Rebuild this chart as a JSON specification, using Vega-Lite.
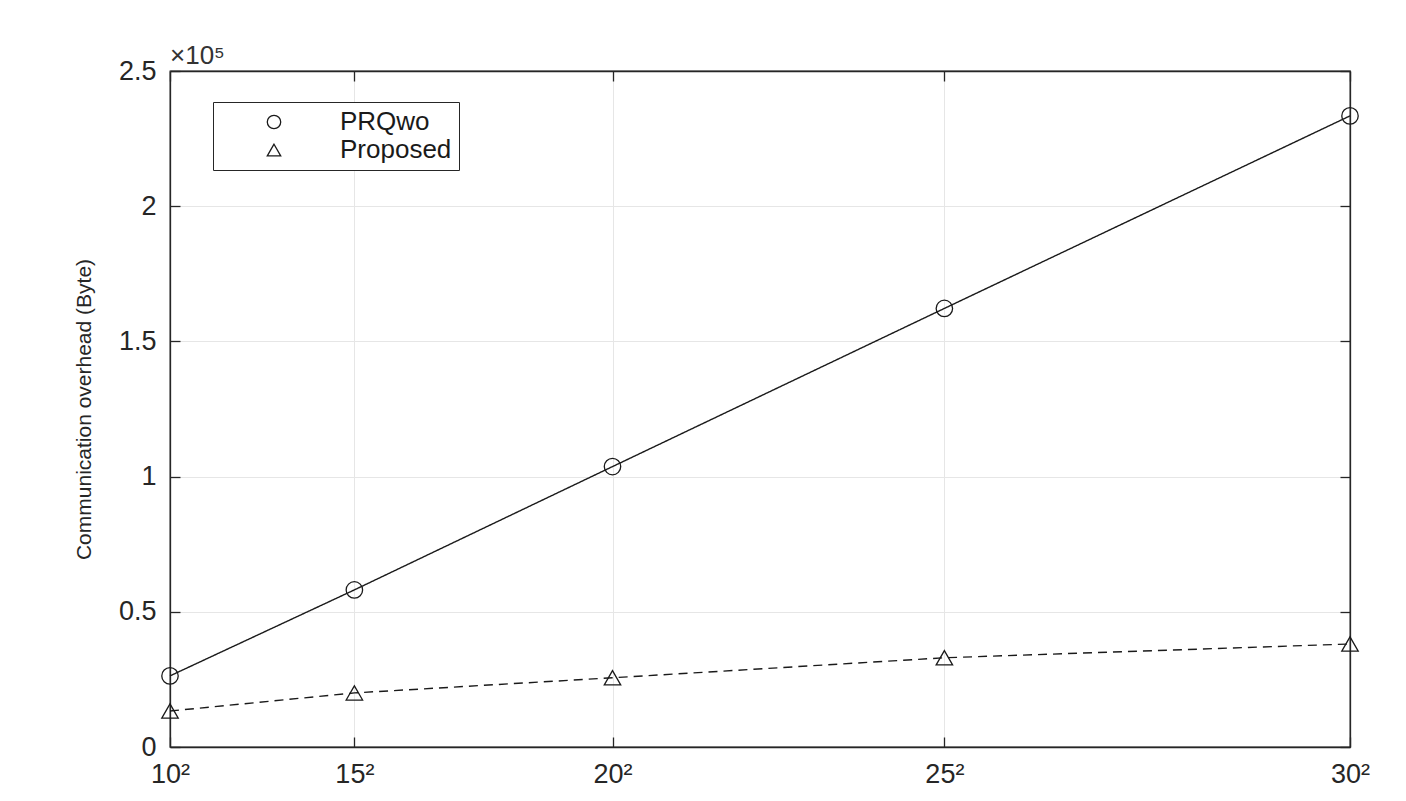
{
  "$schema": "https://vega.github.io/schema/vega-lite/v6.json",
  "width": 1180,
  "height": 676,
  "autosize": {"type": "none"},
  "padding": {"left": 170, "top": 71, "right": 56, "bottom": 54},
  "background": "white",
  "title": {
    "text": "×10⁵",
    "anchor": "start",
    "frame": "group",
    "font": "Liberation Sans",
    "fontSize": 26,
    "fontWeight": "normal",
    "color": "#333333",
    "offset": -12
  },
  "config": {
    "view": {"stroke": "#262626", "strokeWidth": 1.3},
    "axis": {
      "labelFont": "Liberation Sans",
      "labelFontSize": 27,
      "labelColor": "#262626",
      "titleFont": "Liberation Sans",
      "titleFontSize": 21,
      "titleFontWeight": "normal",
      "titleColor": "#262626",
      "domainColor": "#262626",
      "domainWidth": 1.3,
      "tickColor": "#262626",
      "tickWidth": 1.3,
      "gridColor": "#e6e6e6",
      "gridWidth": 1
    }
  },
  "data": {
    "values": [
      {"n": 100, "bytes": 26300, "method": "PRQwo"},
      {"n": 225, "bytes": 58100, "method": "PRQwo"},
      {"n": 400, "bytes": 103700, "method": "PRQwo"},
      {"n": 625, "bytes": 162200, "method": "PRQwo"},
      {"n": 900, "bytes": 233400, "method": "PRQwo"},
      {"n": 100, "bytes": 13300, "method": "Proposed"},
      {"n": 225, "bytes": 20000, "method": "Proposed"},
      {"n": 400, "bytes": 25600, "method": "Proposed"},
      {"n": 625, "bytes": 33000, "method": "Proposed"},
      {"n": 900, "bytes": 38100, "method": "Proposed"}
    ]
  },
  "resolve": {"axis": {"x": "independent", "y": "independent"}},
  "layer": [
    {
      "mark": {"type": "line", "color": "#1a1a1a", "strokeWidth": 1.4},
      "encoding": {
        "x": {
          "field": "n", "type": "quantitative",
          "scale": {"domain": [100, 900], "nice": false, "zero": false},
          "axis": {
            "values": [100, 225, 400, 625, 900],
            "labelExpr": "round(sqrt(datum.value)) + '²'",
            "title": null,
            "grid": true,
            "tickSize": -10,
            "labelPadding": 24,
            "labelFlush": false
          }
        },
        "y": {
          "field": "bytes", "type": "quantitative",
          "scale": {"domain": [0, 250000], "nice": false},
          "axis": {
            "values": [0, 50000, 100000, 150000, 200000, 250000],
            "labelExpr": "datum.value / 100000",
            "title": "Communication overhead (Byte)",
            "titlePadding": 24,
            "grid": true,
            "tickSize": -10,
            "labelPadding": 24,
            "labelFlush": false
          }
        },
        "detail": {"field": "method", "type": "nominal"},
        "strokeDash": {
          "condition": {"test": "datum.method === 'Proposed'", "value": [9, 6]},
          "value": [1, 0]
        }
      }
    },
    {
      "mark": {"type": "point", "filled": false, "color": "#1a1a1a", "strokeWidth": 1.3, "size": 270, "opacity": 1},
      "encoding": {
        "x": {"field": "n", "type": "quantitative", "axis": null},
        "y": {"field": "bytes", "type": "quantitative", "axis": null},
        "shape": {
          "field": "method", "type": "nominal",
          "scale": {"domain": ["PRQwo", "Proposed"], "range": ["circle", "triangle-up"]},
          "legend": {
            "title": null,
            "orient": "none",
            "legendX": 43,
            "legendY": 31,
            "padding": 7,
            "strokeColor": "#262626",
            "fillColor": "white",
            "symbolSize": 180,
            "symbolOffset": 41,
            "labelOffset": 53,
            "rowPadding": 2,
            "labelFont": "Liberation Sans",
            "labelFontSize": 26,
            "labelColor": "#1a1a1a",
            "symbolStrokeColor": "#1a1a1a",
            "symbolFillColor": "transparent",
            "symbolStrokeWidth": 1.3
          }
        }
      }
    },
    {
      "mark": {"type": "point", "opacity": 0},
      "encoding": {
        "x": {
          "field": "n", "type": "quantitative",
          "axis": {"orient": "top", "values": [100, 225, 400, 625, 900], "labels": false, "grid": false, "tickSize": -10, "title": null}
        },
        "y": {
          "field": "bytes", "type": "quantitative",
          "axis": {"orient": "right", "values": [0, 50000, 100000, 150000, 200000, 250000], "labels": false, "grid": false, "tickSize": -10, "title": null}
        }
      }
    }
  ]
}
